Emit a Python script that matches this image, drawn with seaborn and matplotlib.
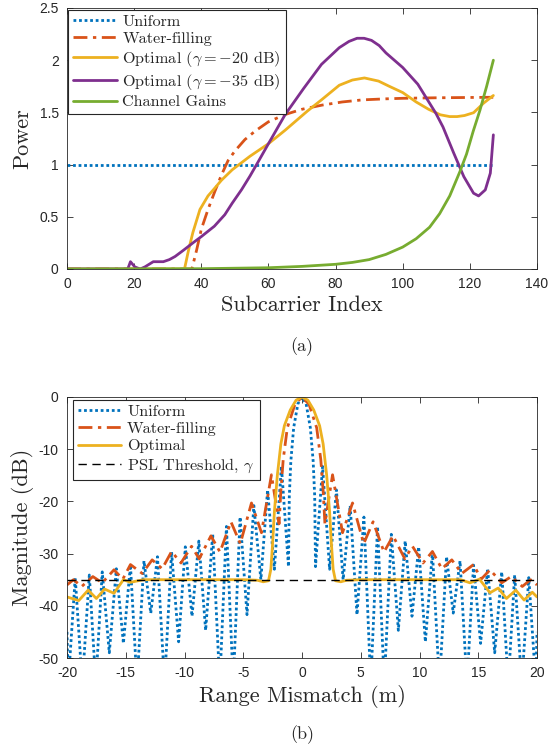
import numpy as np
import pandas as pd
import matplotlib
matplotlib.use("Agg")
import matplotlib.pyplot as plt
import seaborn as sns
from matplotlib.ticker import FormatStrFormatter, MultipleLocator

# ---------------- (a) power allocation per subcarrier ----------------
uniform_x = [0, 127]
uniform_p = [1.0, 1.0]

wf_x = [0, 37.2, 38.6, 40, 42, 44, 46, 48, 50, 53, 56, 60, 65, 70, 76, 82, 88, 95, 100, 110, 120, 127]
wf_p = [0, 0, 0.18, 0.38, 0.57, 0.74, 0.9, 1.04, 1.13, 1.24, 1.32, 1.41, 1.48, 1.53, 1.57, 1.6, 1.62, 1.63, 1.635, 1.64, 1.643, 1.645]

opt20_x = [0, 35.0, 36.2, 37.5, 39.6, 42, 43.9, 46, 49.2, 54.5, 60, 65, 71.5, 75.8, 81.1, 85, 88.6,
           92.8, 96, 100, 104, 107.7, 111.2, 114, 116.2, 118.4, 121.1, 124.1, 127]
opt20_p = [0, 0, 0.18, 0.35, 0.57, 0.7, 0.77, 0.85, 0.95, 1.08, 1.2, 1.33, 1.51, 1.62, 1.76, 1.81, 1.83,
           1.8, 1.75, 1.69, 1.6, 1.53, 1.477, 1.46, 1.46, 1.47, 1.497, 1.589, 1.662]

opt35_x = [0, 18.1, 18.9, 20.2, 21.8, 23.2, 25.7, 28.7, 30.5, 32.2, 34.7, 37.5, 40, 43.9, 47, 49.2, 52,
           54.5, 57, 60, 62.5, 65, 70.5, 75.8, 81.1, 84, 86.4, 88.5, 90.7, 93, 95, 100, 104.5, 109.9,
           112, 115.2, 118.2, 121.1, 122.6, 124.6, 126.1, 127]
opt35_p = [0, 0, 0.07, 0.02, 0, 0.02, 0.07, 0.07, 0.09, 0.12, 0.18, 0.25, 0.31, 0.41, 0.52, 0.63, 0.76,
           0.89, 1.03, 1.2, 1.34, 1.48, 1.73, 1.96, 2.12, 2.18, 2.21, 2.21, 2.19, 2.14, 2.07, 1.93, 1.77, 1.49,
           1.36, 1.11, 0.885, 0.726, 0.70, 0.758, 0.918, 1.285]

gain_x = [0, 40, 60, 70, 80, 85, 90, 95, 100, 104, 108, 111, 114, 117, 119, 121, 123, 125, 127]
gain_p = [0, 0.003, 0.012, 0.025, 0.045, 0.063, 0.09, 0.14, 0.21, 0.29, 0.40, 0.53, 0.70, 0.93, 1.1, 1.32, 1.52, 1.75, 2.0]

# ---------------- (b) ambiguity cut vs range mismatch ----------------
# uniform: main lobe + sidelobe peaks / nulls (positive side, mirrored)
uni_main_x = [0, 0.35, 0.71, 0.95, 1.08]
uni_main_db = [0, -1.3, -5.9, -12.3, -19]
uni_null_x = [1.15, 2.35, 3.5, 4.68, 5.85, 7.0, 8.2, 9.36, 10.5, 11.7, 12.87, 14.04, 15.2, 16.4, 17.55, 18.7, 19.9]
uni_null_db = [-32.5, -33, -35, -41.7, -55, -55, -44.7, -42, -46.9, -55, -41.4, -55, -47.2, -49, -55, -55, -55]
uni_peak_x = [1.75, 2.93, 4.1, 5.27, 6.43, 7.6, 8.78, 9.93, 11.1, 12.3, 13.45, 14.6, 15.8, 17.0, 18.1, 19.3]
uni_peak_db = [-13.3, -17.8, -20.8, -23.0, -24.8, -26.3, -27.6, -28.7, -29.7, -30.6, -31.4, -32.2, -32.9, -33.5, -34.1, -34.6]
uni_edge_db = -45

# water-filling (positive side, mirrored)
wfb_x = [0, 0.6, 1.25, 1.6, 1.8, 1.95, 2.6, 3.45, 4.3, 5.25, 6.05, 6.98, 7.75, 8.75, 9.4, 10.3, 11.1, 11.9,
         12.75, 13.6, 14.6, 15.25, 16.0, 17.0, 17.8, 18.75, 19.45, 20]
wfb_db = [0, -1.4, -5.9, -12, -18, -24.3, -14.9, -26, -20.3, -28.1, -23.9, -29.7, -26.6, -31.0, -28.6, -31.8,
          -29.6, -32.9, -31.2, -33.8, -32.1, -34.9, -33.1, -35.6, -34.4, -36.3, -35.0, -36.0]

# optimal (gamma = -35 dB)
optb_x = [-20, -19.0, -18.2, -17.5, -16.8, -16.0, -15.2, -14.6, -13.5, -10, -5, -3.8, -3.3, -2.85, -2.65,
          -2.5, -2.35, -2.1, -1.8, -1.5, -1.0, -0.5, 0, 0.5, 1.0, 1.5, 1.8, 2.1, 2.35, 2.5, 2.65, 2.85,
          3.3, 3.8, 5, 10, 13.5, 14.3, 15.1, 16.0, 16.7, 17.4, 18.2, 18.9, 19.6, 20]
optb_db = [-38.3, -39.0, -37.0, -38.6, -36.8, -37.6, -35.0, -35.5, -35.0, -35.0, -35.0, -35.1, -35.4, -35.2,
           -33, -28, -22, -15, -9, -5.5, -2.5, -0.6, 0, -0.6, -2.5, -5.5, -9, -15, -22, -28, -33, -35.2,
           -35.4, -35.1, -35.0, -35.0, -35.0, -35.6, -34.9, -37.5, -36.6, -38.6, -37.0, -38.9, -37.4, -38.3]

psl_x = [-20, 20]
psl_db = [-35, -35]

# ---------------- style ----------------
sns.set_style("ticks")
plt.rcParams['font.family'] = ['Liberation Sans', 'DejaVu Sans']
plt.rcParams['mathtext.fontset'] = 'cm'
plt.rcParams['axes.unicode_minus'] = False
plt.rcParams['axes.linewidth'] = 0.6
plt.rcParams['axes.edgecolor'] = '#262626'
SERIF = ['cmr10', 'DejaVu Serif']

C_BLUE = '#0072BD'
C_RED = '#D95319'
C_YEL = '#EDB120'
C_PUR = '#7E2F8E'
C_GRN = '#77AC30'
DOT = (0, (1, 1))
DASHDOT = (0, (5, 2, 1.2, 2))
LEG_KW = dict(borderaxespad=0, prop={'family': SERIF, 'size': 11.7}, frameon=True, fancybox=False,
              framealpha=1, edgecolor='#262626', handlelength=2.7, handletextpad=0.35,
              labelspacing=0.18, borderpad=0.3)


def style_axes(ax):
    ax.tick_params(direction='in', top=True, right=True, length=4, width=0.6,
                   labelsize=10, colors='#262626', pad=6)
    for s in ax.spines.values():
        s.set_visible(True)
        s.set_color('#262626')


def mirror(xs, ys):
    # symmetric curve from its positive half
    xs = list(xs)
    ys = list(ys)
    return [-v for v in xs[::-1]] + xs[1:], ys[::-1] + ys[1:]


fig = plt.figure(figsize=(5.6, 7.49), dpi=100)
ax1 = fig.add_axes([67 / 560, 1 - 269 / 749, 470 / 560, 261 / 749])
ax2 = fig.add_axes([67 / 560, 1 - 658 / 749, 470 / 560, 261 / 749])

# ----- panel (a)
sns.lineplot(x=uniform_x, y=uniform_p, ax=ax1, color=C_BLUE, lw=2, linestyle=DOT, label='Uniform')
sns.lineplot(x=wf_x, y=wf_p, ax=ax1, color=C_RED, lw=2, linestyle=DASHDOT, label='Water-filling')
sns.lineplot(x=opt20_x, y=opt20_p, ax=ax1, color=C_YEL, lw=2, label=r'Optimal ($\gamma = -20$ dB)')
sns.lineplot(x=opt35_x, y=opt35_p, ax=ax1, color=C_PUR, lw=2, label=r'Optimal ($\gamma = -35$ dB)')
sns.lineplot(x=gain_x, y=gain_p, ax=ax1, color=C_GRN, lw=2, label='Channel Gains')

ax1.set_xlim(0, 140)
ax1.set_ylim(0, 2.5)
ax1.xaxis.set_major_locator(MultipleLocator(20))
ax1.yaxis.set_major_locator(MultipleLocator(0.5))
ax1.yaxis.set_major_formatter(FormatStrFormatter('%g'))
style_axes(ax1)
ax1.set_xlabel('Subcarrier Index', family=SERIF, fontsize=16, labelpad=3)
ax1.set_ylabel('Power', family=SERIF, fontsize=16, labelpad=5)
leg1 = ax1.legend(loc='upper left', bbox_to_anchor=(0.002, 0.994), **LEG_KW)
leg1.get_frame().set_linewidth(0.8)

# ----- panel (b)
ux = [-20]
ud = [uni_edge_db]
for i in range(len(uni_null_x) - 1, -1, -1):
    ux.append(-uni_null_x[i]); ud.append(uni_null_db[i])
    if i > 0:
        ux.append(-uni_peak_x[i - 1]); ud.append(uni_peak_db[i - 1])
for i in range(len(uni_main_x) - 1, 0, -1):
    ux.append(-uni_main_x[i]); ud.append(uni_main_db[i])
ux += uni_main_x
ud += uni_main_db
for i in range(len(uni_null_x)):
    ux.append(uni_null_x[i]); ud.append(uni_null_db[i])
    if i < len(uni_peak_x):
        ux.append(uni_peak_x[i]); ud.append(uni_peak_db[i])
ux.append(20); ud.append(uni_edge_db)

wx, wd = mirror(wfb_x, wfb_db)

sns.lineplot(x=ux, y=ud, ax=ax2, color=C_BLUE, lw=2, linestyle=DOT, label='Uniform', sort=False)
sns.lineplot(x=wx, y=wd, ax=ax2, color=C_RED, lw=2, linestyle=DASHDOT, label='Water-filling', sort=False)
sns.lineplot(x=optb_x, y=optb_db, ax=ax2, color=C_YEL, lw=2, label='Optimal', sort=False)
sns.lineplot(x=psl_x, y=psl_db, ax=ax2, color='black', lw=1, linestyle=(0, (6, 4)),
             label=r'PSL Threshold, $\gamma$')

ax2.set_xlim(-20, 20)
ax2.set_ylim(-50, 0)
ax2.xaxis.set_major_locator(MultipleLocator(5))
ax2.yaxis.set_major_locator(MultipleLocator(10))
ax2.xaxis.set_major_formatter(FormatStrFormatter('%g'))
ax2.yaxis.set_major_formatter(FormatStrFormatter('%g'))
style_axes(ax2)
ax2.set_xlabel('Range Mismatch (m)', family=SERIF, fontsize=16, labelpad=3)
ax2.set_ylabel('Magnitude (dB)', family=SERIF, fontsize=16, labelpad=3)
leg2 = ax2.legend(loc='upper left', bbox_to_anchor=(0.012, 0.99), **LEG_KW)
leg2.get_frame().set_linewidth(0.8)

fig.text(302 / 560, 1 - 347 / 749, '(a)', ha='center', va='center', family=SERIF, fontsize=13)
fig.text(302 / 560, 1 - 735 / 749, '(b)', ha='center', va='center', family=SERIF, fontsize=13)

fig.savefig('out.png', dpi=100)
